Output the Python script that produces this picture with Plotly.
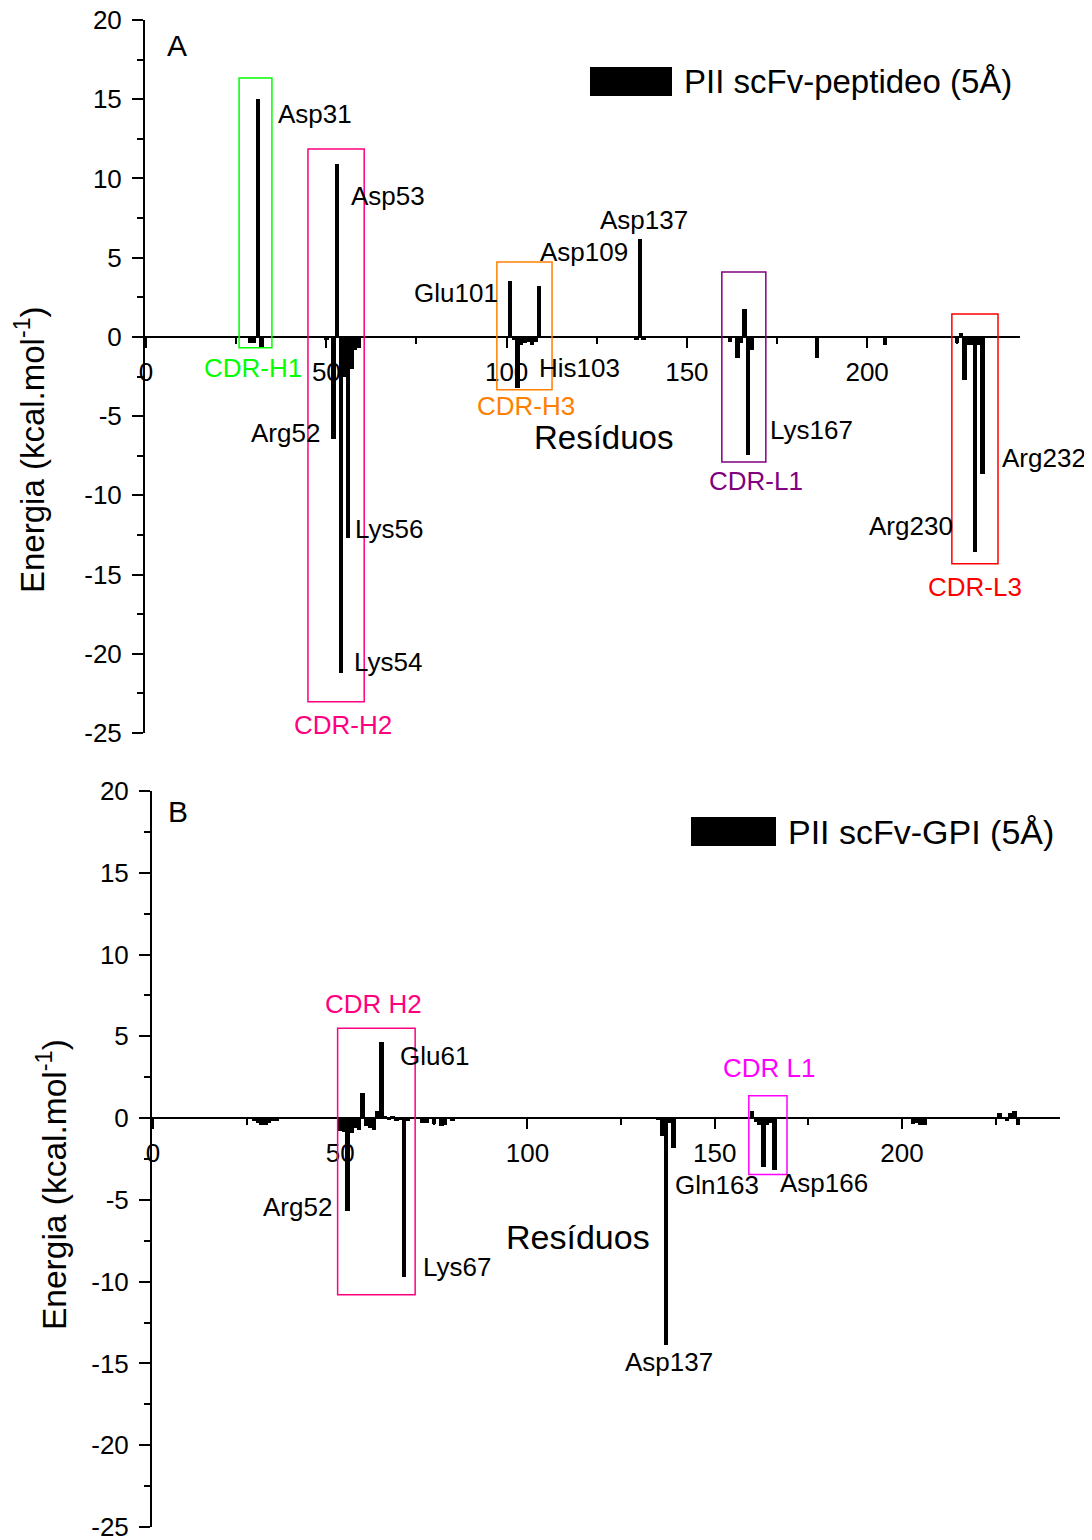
import plotly.graph_objects as go

# The page body has an 8px margin, so the figure is sized/offset to compensate.
OFF = 8
W, H = 1084, 1532
FONT = "Liberation Sans, Arial, sans-serif"

# ---------------- Panel A data (PII scFv-peptideo) ----------------
res_a = [29, 30, 31, 32, 50, 52, 53, 54, 55, 56, 57, 58, 59,
         101, 102, 103, 104, 105, 106, 107, 108, 109,
         136, 137, 138,
         162, 164, 165, 166, 167, 168,
         186, 205,
         225, 226, 227, 228, 229, 230, 231, 232]
val_a = [-0.4, -0.4, 15.0, -0.65, -0.2, -6.45, 10.9, -21.2, -2.5, -12.7, -2.0, -0.8, -0.7,
         3.5, -0.2, -3.2, -0.5, -0.4, -0.3, -0.5, -0.3, 3.24,
         -0.2, 6.2, -0.2,
         -0.3, -1.35, -0.4, 1.77, -7.45, -0.8,
         -1.35, -0.5,
         -0.4, 0.27, -2.7, -0.5, -0.5, -13.6, -0.5, -8.65]

# ---------------- Panel B data (PII scFv-GPI) ----------------
res_b = [27, 28, 29, 30, 31, 32, 33,
         50, 51, 52, 53, 54, 55, 56, 57, 58, 59, 60, 61, 62, 63, 64, 65, 66, 67, 68,
         72, 73, 75, 77, 78, 80,
         135, 136, 137, 138, 139,
         160, 161, 162, 163, 164, 165, 166,
         203, 204, 205, 206,
         226, 228, 229, 230, 231]
val_b = [-0.2, -0.3, -0.4, -0.4, -0.3, -0.2, -0.15,
         -0.8, -0.85, -5.67, -0.9, -0.6, -0.7, 1.55, -0.5, -0.6, -0.75, 0.43, 4.63, 0.15, -0.1, 0.1, -0.15, -0.1, -9.7, -0.2,
         -0.3, -0.3, -0.35, -0.5, -0.4, -0.2,
         -0.1, -1.1, -13.9, -0.3, -1.85,
         0.45, -0.25, -0.4, -3.0, -0.4, -0.3, -3.15,
         -0.35, -0.3, -0.45, -0.45,
         0.3, -0.2, 0.3, 0.45, -0.45]

x_ticks = [0, 50, 100, 150, 200]
x_tick_text = ["0", "50", "100", "150", "200"]
y_ticks = [20, 15, 10, 5, 0, -5, -10, -15, -20, -25]
y_tick_text = ["20", "15", "10", "5", "0", "-5", "-10", "-15", "-20", "-25"]

# residue labels: (text, residue, energy, xanchor)
labels_a = [("Asp31", 36.05, 14.07, "left"), ("Asp53", 56.3, 8.9, "left"),
            ("Glu101", 98.2, 2.78, "right"), ("Asp109", 108.7, 5.36, "left"),
            ("Asp137", 125.3, 7.38, "left"), ("His103", 108.4, -1.96, "left"),
            ("Arg52", 48.8, -6.06, "right"), ("Lys56", 57.4, -12.1, "left"),
            ("Lys54", 57.1, -20.5, "left"), ("Lys167", 172.5, -5.87, "left"),
            ("Arg232", 236.8, -7.63, "left"), ("Arg230", 224.3, -11.92, "right")]
labels_b = [("Glu61", 65.4, 3.8, "left"), ("Arg52", 48.3, -5.45, "right"),
            ("Lys67", 71.6, -9.12, "left"), ("Gln163", 150.6, -4.1, "center"),
            ("Asp166", 179.3, -3.98, "center"), ("Asp137", 137.8, -14.94, "center")]

GREEN, PINK, ORANGE, PURPLE, RED, MAGENTA = "#00FF00", "#FF0080", "#FF8000", "#800080", "#FF0000", "#FF00FF"

# CDR regions: (name, residue start, residue end, energy low, energy high, label residue, label energy, color)
cdr_a = [("CDR-H1", 25.8, 34.9, -0.69, 16.34, 29.7, -1.96, GREEN),
         ("CDR-H2", 44.9, 60.5, -23.03, 11.86, 54.6, -24.5, PINK),
         ("CDR-H3", 97.3, 112.6, -3.34, 4.73, 105.4, -4.35, ORANGE),
         ("CDR-L1", 159.7, 171.9, -7.89, 4.1, 169.2, -9.08, PURPLE),
         ("CDR-L3", 223.5, 236.3, -14.32, 1.45, 229.9, -15.77, RED)]
cdr_b = [("CDR H2", 49.3, 70.0, -10.8, 5.49, 59.0, 6.98, PINK),
         ("CDR L1", 159.1, 169.3, -3.45, 1.37, 164.5, 3.06, MAGENTA)]

YMIN, YMAX = -25, 20


def px(x):
    return (x - OFF) / W


def py(y):
    return 1 - (y - OFF) / H


panels = [
    dict(res=res_a, val=val_a, xd=[px(145), px(1020)], yd=[py(733), py(20)],
         xr=[-0.3, 242.4], width=1.2, labels=labels_a, cdr=cdr_a,
         letter=("A", 177, 45), title_pos=(30, 450), title_size=33,
         res_lab=(127.0, -6.37), res_size=33,
         leg_rect=(590, 67, 672, 96), leg_text=("PII scFv-peptideo (5Å)", 682, 82), leg_size=33),
    dict(res=res_b, val=val_b, xd=[px(152), px(1060)], yd=[py(1527), py(791)],
         xr=[-0.27, 242.2], width=1.2, labels=labels_b, cdr=cdr_b,
         letter=("B", 178, 812), title_pos=(52, 1185), title_size=33.5,
         res_lab=(113.5, -7.29), res_size=34,
         leg_rect=(691, 817, 776, 846), leg_text=("PII scFv-GPI (5Å)", 786, 832), leg_size=34),
]

fig = go.Figure()
annotations = []
shapes = []
layout = {}

for i, p in enumerate(panels, start=1):
    xa = "x" if i == 1 else f"x{i}"
    ya = "y" if i == 1 else f"y{i}"
    xkey = "xaxis" if i == 1 else f"xaxis{i}"
    ykey = "yaxis" if i == 1 else f"yaxis{i}"

    fig.add_trace(go.Bar(x=p["res"], y=p["val"], width=p["width"],
                         marker=dict(color="black", line=dict(width=0)),
                         xaxis=xa, yaxis=ya, showlegend=False))

    zero_pos = p["yd"][0] + (0 - YMIN) / (YMAX - YMIN) * (p["yd"][1] - p["yd"][0])
    layout[xkey] = dict(domain=p["xd"], range=p["xr"], anchor="free", position=zero_pos,
                        automargin=False, ticklabeloverflow="allow",
                        showline=True, linecolor="black", linewidth=2,
                        ticks="outside", ticklen=10, tickwidth=2, tickcolor="black",
                        tickvals=x_ticks, ticktext=x_tick_text,
                        minor=dict(ticks="outside", dtick=25, tick0=0, ticklen=6,
                                   tickwidth=2, tickcolor="black"),
                        showgrid=False, zeroline=False,
                        tickfont=dict(family=FONT, size=26, color="black"),
                        ticklabelstandoff=2)
    layout[ykey] = dict(domain=p["yd"], range=[YMIN, YMAX], anchor=xa,
                        automargin=False, ticklabeloverflow="allow",
                        showline=True, linecolor="black", linewidth=2,
                        ticks="outside", ticklen=11, tickwidth=2, tickcolor="black",
                        tickvals=y_ticks, ticktext=y_tick_text,
                        minor=dict(ticks="outside", dtick=2.5, tick0=0, ticklen=6,
                                   tickwidth=2, tickcolor="black"),
                        showgrid=False, zeroline=False,
                        tickfont=dict(family=FONT, size=26, color="black"),
                        ticklabelstandoff=5)

    for text, x, y, anc in p["labels"]:
        annotations.append(dict(text=text, x=x, y=y, xref=xa, yref=ya, xanchor=anc,
                                yanchor="middle", showarrow=False,
                                font=dict(family=FONT, size=26, color="black")))
    for name, x0, x1, y0, y1, lx, ly, col in p["cdr"]:
        shapes.append(dict(type="rect", xref=xa, yref=ya, x0=x0, x1=x1, y0=y0, y1=y1,
                           line=dict(color=col, width=1.5), fillcolor="rgba(0,0,0,0)"))
        annotations.append(dict(text=name, x=lx, y=ly, xref=xa, yref=ya, xanchor="center",
                                yanchor="middle", showarrow=False,
                                font=dict(family=FONT, size=26, color=col)))

    rx, ry = p["res_lab"]
    annotations.append(dict(text="Resíduos", x=rx, y=ry, xref=xa, yref=ya, showarrow=False,
                            xanchor="center", yanchor="middle",
                            font=dict(family=FONT, size=p["res_size"], color="black")))
    letter, lxp, lyp = p["letter"]
    annotations.append(dict(text=letter, x=px(lxp), y=py(lyp), xref="paper", yref="paper",
                            showarrow=False, xanchor="center", yanchor="middle",
                            font=dict(family=FONT, size=30, color="black")))
    tx, ty = p["title_pos"]
    annotations.append(dict(text="Energia (kcal.mol<sup>-1</sup>)", x=px(tx), y=py(ty),
                            xref="paper", yref="paper", showarrow=False, textangle=-90,
                            xanchor="center", yanchor="middle",
                            font=dict(family=FONT, size=p["title_size"], color="black")))
    x0r, y0r, x1r, y1r = p["leg_rect"]
    shapes.append(dict(type="rect", xref="paper", yref="paper", x0=px(x0r), x1=px(x1r),
                       y0=py(y1r), y1=py(y0r), fillcolor="black", line=dict(width=0)))
    ltext, ltx, lty = p["leg_text"]
    annotations.append(dict(text=ltext, x=px(ltx), y=py(lty), xref="paper", yref="paper",
                            showarrow=False, xanchor="left", yanchor="middle",
                            font=dict(family=FONT, size=p["leg_size"], color="black")))

fig.update_layout(width=W, height=H, margin=dict(l=0, r=0, t=0, b=0),
                  paper_bgcolor="white", plot_bgcolor="white",
                  bargap=0, annotations=annotations, shapes=shapes,
                  font=dict(family=FONT, color="black"), **layout)

fig.write_html("out.html")
